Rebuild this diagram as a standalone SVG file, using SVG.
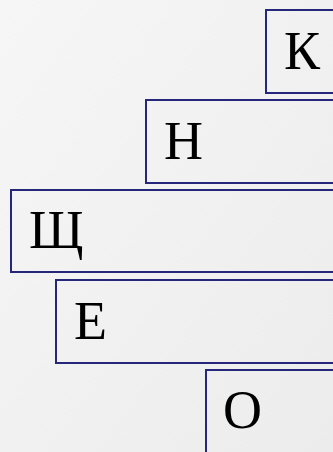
<svg xmlns="http://www.w3.org/2000/svg" width="333" height="452" viewBox="0 0 333 452">
<defs>
<linearGradient id="bg" x1="0" y1="0" x2="1" y2="1">
<stop offset="0" stop-color="#f6f6f6"/>
<stop offset="1" stop-color="#ececec"/>
</linearGradient>
<style>
.box{fill:none;stroke:#26267a;stroke-width:2}
.t{font-family:"Liberation Serif","Times New Roman",serif;font-size:54px;fill:#000}
</style>
</defs>
<rect x="0" y="0" width="333" height="452" fill="url(#bg)"/>
<g id="node-k"><rect class="box" x="266" y="10" width="100" height="83"/><text class="t" x="284" y="69">К</text></g>
<g id="node-n"><rect class="box" x="146" y="100" width="220" height="83"/><text class="t" x="164" y="159">Н</text></g>
<g id="node-shch"><rect class="box" x="11" y="190" width="355" height="82"/><text class="t" x="29" y="248">Щ</text></g>
<g id="node-e"><rect class="box" x="56" y="280" width="310" height="83"/><text class="t" x="74" y="339">Е</text></g>
<g id="node-o"><rect class="box" x="206" y="370" width="160" height="100"/><text class="t" x="223" y="428">О</text></g>
<g id="connectors"></g>
</svg>
